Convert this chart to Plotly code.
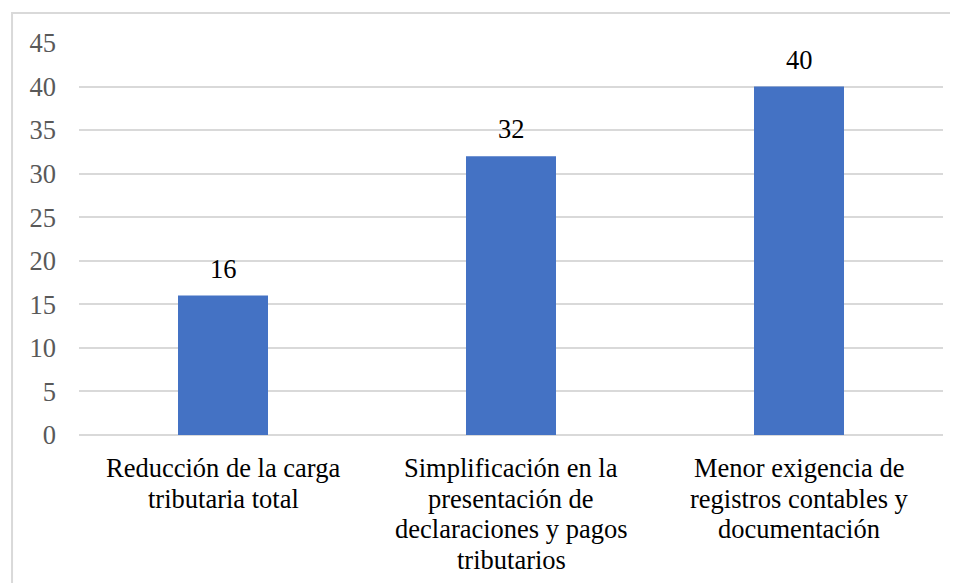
import plotly.graph_objects as go

# ---------------------------------------------------------------------------
# Data
# ---------------------------------------------------------------------------
CATEGORIES = [
    "Reducción de la carga tributaria total",
    "Simplificación en la presentación de declaraciones y pagos tributarios",
    "Menor exigencia de registros contables y documentación",
]
CATEGORY_LINES = [
    ["Reducción de la carga", "tributaria total"],
    ["Simplificación en la", "presentación de", "declaraciones y pagos", "tributarios"],
    ["Menor exigencia de", "registros contables y", "documentación"],
]
VALUES = [16, 32, 40]
Y_TICKS = [0, 5, 10, 15, 20, 25, 30, 35, 40, 45]

# ---------------------------------------------------------------------------
# Styling
# ---------------------------------------------------------------------------
FONT_FAMILY = "Times New Roman, Liberation Serif, serif"
FONT_SIZE = 26.5
LINE_STEP = 30.7  # px between wrapped category-label lines (Word-like spacing)
COLOR_BAR = "#4472C4"
COLOR_GRID = "#D9D9D9"
COLOR_TICK = "#595959"

fig = go.Figure()
fig.add_trace(
    go.Bar(
        x=CATEGORIES,
        y=VALUES,
        marker=dict(color=COLOR_BAR, line=dict(width=0)),
        hoverinfo="skip",
    )
)

# Value labels sitting above each bar
for cat, val in zip(CATEGORIES, VALUES):
    fig.add_annotation(
        x=cat,
        y=val,
        text=str(val),
        showarrow=False,
        yanchor="bottom",
        yshift=10,
        font=dict(family=FONT_FAMILY, size=FONT_SIZE, color="#000000"),
    )

# Category labels, one annotation per wrapped line for tighter line spacing
for cat, lines in zip(CATEGORIES, CATEGORY_LINES):
    for i, line in enumerate(lines):
        fig.add_annotation(
            x=cat,
            y=0,
            text=line,
            showarrow=False,
            yanchor="middle",
            yshift=-33 - i * LINE_STEP,
            font=dict(family=FONT_FAMILY, size=FONT_SIZE, color="#000000"),
        )

# Light outer frame of the chart object (right/bottom edges run off the image)
fig.add_shape(
    type="rect",
    xref="paper",
    yref="paper",
    x0=-0.0775,
    x1=1.06,
    y0=-0.45,
    y1=1.0765,
    line=dict(color=COLOR_GRID, width=2),
    fillcolor="rgba(0,0,0,0)",
    layer="below",
)

fig.update_layout(
    width=950,
    height=575,
    paper_bgcolor="white",
    plot_bgcolor="white",
    margin=dict(l=71, r=15, t=35, b=148),
    bargap=0.6875,
    showlegend=False,
    font=dict(family=FONT_FAMILY, size=FONT_SIZE, color="#000000"),
)
fig.update_xaxes(
    showgrid=False,
    showline=False,
    ticks="",
    showticklabels=False,
)
fig.update_yaxes(
    range=[0, 45],
    tickvals=Y_TICKS,
    showgrid=True,
    gridcolor=COLOR_GRID,
    gridwidth=1.5,
    zeroline=True,
    zerolinecolor=COLOR_GRID,
    zerolinewidth=1.5,
    showline=False,
    ticks="",
    ticklabelstandoff=22,
    tickfont=dict(family=FONT_FAMILY, size=FONT_SIZE, color=COLOR_TICK),
)

fig.write_html("out.html")
